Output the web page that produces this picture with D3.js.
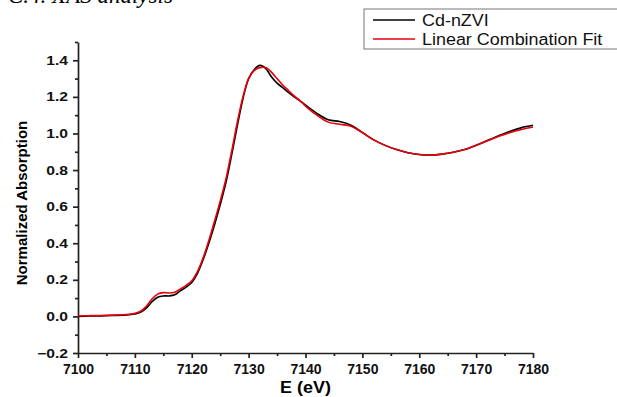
<html>
<head>
    <meta charset="utf-8">
    <title>XAS LCF</title>
    <script src="https://d3js.org/d3.v7.min.js"></script>
    <style>
        body { margin: 0; background: #fff; }
        svg { display: block; }
    </style>
</head>
<body>
<div id="graph"></div>
<script>
    energy = [7100, 7102, 7104, 7106, 7108, 7109, 7110, 7111, 7112, 7113, 7114, 7115, 7116, 7117, 7118, 7119,
        7120, 7121, 7122, 7123, 7124, 7125, 7126, 7127, 7128, 7129, 7130, 7131, 7132, 7133, 7134, 7135, 7136,
        7137, 7138, 7139, 7140, 7142, 7144, 7146, 7148, 7150, 7152, 7154, 7156, 7158, 7160, 7162, 7164, 7166,
        7168, 7170, 7172, 7174, 7176, 7178, 7180];

    // Cd-nZVI measured spectrum
    sample = [0.000, 0.002, 0.003, 0.005, 0.007, 0.009, 0.013, 0.022, 0.045, 0.080, 0.105, 0.112, 0.112, 0.118, 0.140, 0.160,
        0.185, 0.235, 0.310, 0.400, 0.500, 0.610, 0.730, 0.880, 1.040, 1.190, 1.300, 1.350, 1.372, 1.355, 1.310, 1.275, 1.250,
        1.225, 1.200, 1.180, 1.155, 1.110, 1.075, 1.065, 1.045, 1.005, 0.965, 0.935, 0.912, 0.895, 0.885, 0.882, 0.887, 0.897,
        0.912, 0.935, 0.962, 0.988, 1.012, 1.032, 1.045];

    // linear combination fit
    fit = [0.002, 0.004, 0.005, 0.007, 0.009, 0.012, 0.017, 0.028, 0.055, 0.095, 0.122, 0.130, 0.128, 0.132, 0.150, 0.170,
        0.195, 0.245, 0.320, 0.415, 0.520, 0.630, 0.750, 0.900, 1.060, 1.200, 1.300, 1.345, 1.360, 1.360, 1.335, 1.300, 1.265,
        1.235, 1.205, 1.180, 1.150, 1.100, 1.062, 1.050, 1.040, 1.005, 0.965, 0.935, 0.912, 0.895, 0.885, 0.882, 0.887, 0.897,
        0.912, 0.935, 0.960, 0.985, 1.005, 1.022, 1.035];

    series_names = ["Cd-nZVI", "Linear Combination Fit"];
    series_colors = ["#000000", "#e8000b"];

    x_ticks = [7100, 7110, 7120, 7130, 7140, 7150, 7160, 7170, 7180];
    y_ticks = [-0.2, 0.0, 0.2, 0.4, 0.6, 0.8, 1.0, 1.2, 1.4];

    width = 617;
    height = 397;
    margin = { top: 42, left: 78, right: 84, bottom: 44 };

    svg = d3.select("#graph").append("svg")
        .attr("width", width)
        .attr("height", height);

    // stretch a text horizontally, like the scanned figure
    function stretch(sel, k) {
        sel.each(function() {
            w = this.getComputedTextLength();
            d3.select(this).attr("textLength", w * k).attr("lengthAdjust", "spacingAndGlyphs");
        });
    }

    // caption fragment, cut by the top edge
    svg.append("text")
        .attr("x", 8)
        .attr("y", 3)
        .attr("font-family", "Liberation Serif, Times New Roman, serif")
        .attr("font-style", "italic")
        .attr("font-size", 23)
        .text("C.4. XAS analysis");

    x = d3.scaleLinear()
        .domain([7100, 7180])
        .range([margin.left, width - margin.right]);
    y = d3.scaleLinear()
        .domain([-0.2, 1.5])
        .range([height - margin.bottom, margin.top]);

    font = "Liberation Sans, Arial, sans-serif";

    // bottom axis
    xAxis = svg.append("g")
        .attr("transform", `translate(0,${y(-0.2)})`)
        .call(d3.axisBottom(x).tickValues(x_ticks).tickFormat(d3.format("d")).tickSize(5).tickSizeOuter(0));
    svg.append("g")
        .attr("transform", `translate(0,${y(-0.2)})`)
        .call(d3.axisBottom(x).tickValues(x_ticks.slice(1).map(d => d - 5)).tickFormat("").tickSize(3))
        .select(".domain").remove();

    // left axis
    yAxis = svg.append("g")
        .attr("transform", `translate(${x(7100)},0)`)
        .call(d3.axisLeft(y).tickValues(y_ticks).tickFormat(d3.format(".1f")).tickSize(5).tickSizeOuter(0));
    svg.append("g")
        .attr("transform", `translate(${x(7100)},0)`)
        .call(d3.axisLeft(y).tickValues(y_ticks.map(d => d + 0.1)).tickFormat("").tickSize(3))
        .select(".domain").remove();

    svg.selectAll(".domain, .tick line")
        .attr("stroke", "#222")
        .attr("stroke-width", 1.7);
    xAxis.selectAll("text")
        .attr("font-family", font)
        .attr("font-weight", "bold")
        .attr("font-size", 14)
        .attr("fill", "#111")
        .attr("dy", "0.9em");
    yAxis.selectAll("text")
        .attr("font-family", font)
        .attr("font-weight", "bold")
        .attr("font-size", 12.5)
        .attr("fill", "#111")
        .attr("x", -10)
        .call(stretch, 1.25);

    // axis titles
    svg.append("text")
        .attr("x", (x(7100) + x(7180)) / 2)
        .attr("y", 393)
        .attr("text-anchor", "middle")
        .attr("font-family", font)
        .attr("font-weight", "bold")
        .attr("font-size", 16)
        .text("E (eV)")
        .call(stretch, 1.12);
    svg.append("text")
        .attr("transform", `translate(27,203) rotate(-90)`)
        .attr("text-anchor", "middle")
        .attr("font-family", font)
        .attr("font-weight", "bold")
        .attr("font-size", 15)
        .text("Normalized Absorption");

    // curves
    line = d3.line()
        .x(function(d) { return x(d.e); })
        .y(function(d) { return y(d.v); })
        .curve(d3.curveCatmullRom);

    [sample, fit].forEach(function(vals, i) {
        data_packed = [];
        for (k = 0; k < energy.length; ++k) {
            data_packed.push({ e: energy[k], v: vals[k] });
        }
        svg.append("path")
            .datum(data_packed)
            .attr("fill", "none")
            .attr("stroke", series_colors[i])
            .attr("stroke-width", 1.6)
            .attr("d", line);
    });

    // legend
    legend = svg.append("g").attr("transform", "translate(364,9)");
    legend.append("rect")
        .attr("x", 0).attr("y", 0)
        .attr("width", 270).attr("height", 40)
        .attr("fill", "#fff")
        .attr("stroke", "#777")
        .attr("stroke-width", 1);
    series_names.forEach(function(name, i) {
        legend.append("line")
            .attr("x1", 9).attr("x2", 51)
            .attr("y1", 11 + i * 19).attr("y2", 11 + i * 19)
            .attr("stroke", series_colors[i])
            .attr("stroke-width", 1.6);
        legend.append("text")
            .attr("x", 58)
            .attr("y", 17 + i * 19)
            .attr("font-family", font)
            .attr("font-size", 16)
            .attr("fill", "#111")
            .text(name)
            .call(stretch, 1.12);
    });
</script>
</body>
</html>
